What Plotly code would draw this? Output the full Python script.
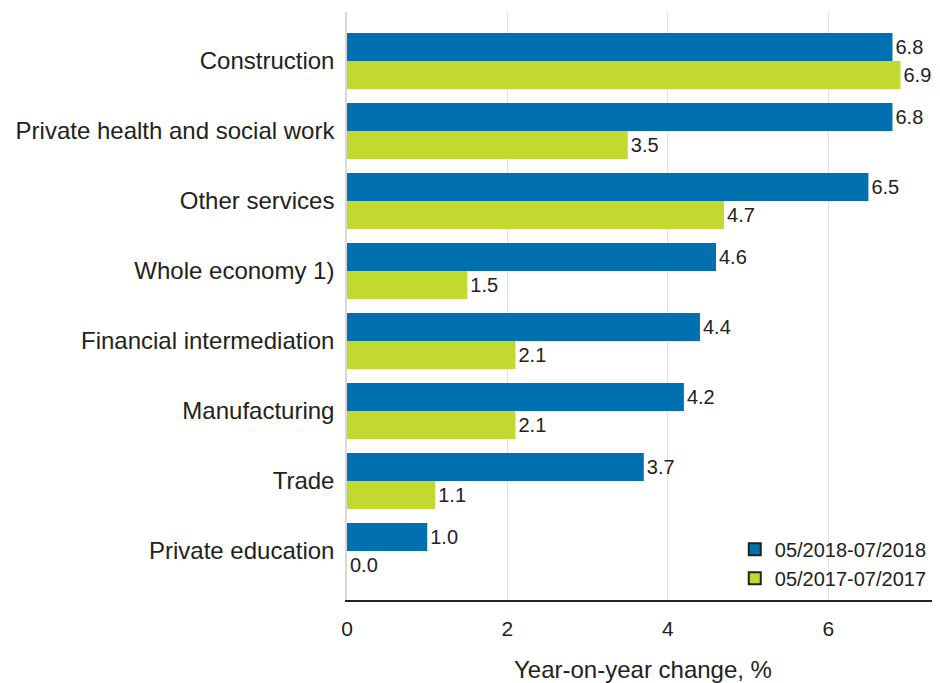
import plotly.graph_objects as go

categories = ["Construction", "Private health and social work", "Other services",
              "Whole economy 1)", "Financial intermediation", "Manufacturing",
              "Trade", "Private education"]
series_2018 = [6.8, 6.8, 6.5, 4.6, 4.4, 4.2, 3.7, 1.0]
series_2017 = [6.9, 3.5, 4.7, 1.5, 2.1, 2.1, 1.1, 0.0]
name_2018 = "05/2018-07/2018"
name_2017 = "05/2017-07/2017"
x_ticks = [0, 2, 4, 6]

blue = "#0070b0"
green = "#c2d92f"
font = "Liberation Sans, Arial, sans-serif"

fig = go.Figure()
for name, vals, col in [(name_2018, series_2018, blue), (name_2017, series_2017, green)]:
    fig.add_trace(go.Bar(
        y=categories, x=vals, orientation="h", name=name,
        marker=dict(color=col, line=dict(width=0)),
        texttemplate="%{x:.1f}", textposition="outside",
        textfont=dict(size=20, color="#222222", family=font),
        cliponaxis=False, showlegend=False))
    fig.add_trace(go.Scatter(
        x=[None], y=[None], mode="markers", name=name,
        marker=dict(symbol="square", size=14, color=col, line=dict(color="#222222", width=1.5))))

fig.update_layout(
    width=932, height=675,
    margin=dict(l=339, r=1, t=4, b=83),
    plot_bgcolor="white", paper_bgcolor="white",
    barmode="group", bargap=0.2, bargroupgap=0,
    font=dict(family=font, size=20, color="#222222"),
    legend=dict(x=0.655, y=0.004, xanchor="left", yanchor="bottom",
                font=dict(size=20), bgcolor="rgba(0,0,0,0)",
                itemsizing="constant", tracegroupgap=0),
    xaxis=dict(range=[0, 7.38], tickvals=x_ticks, showgrid=True, gridcolor="#e0e0e0",
               gridwidth=1, zeroline=False, showline=True, linecolor="#222222",
               linewidth=2, ticks="", ticklabelstandoff=9, automargin=False,
               tickfont=dict(size=21),
               title=dict(text="Year-on-year change, %", font=dict(size=24), standoff=33)),
    yaxis=dict(categoryorder="array", categoryarray=categories, autorange=False,
               range=[7.7, -0.7], showgrid=False, zeroline=False, showline=True,
               linecolor="#d8d8d8", linewidth=1.5, ticks="", ticklabelstandoff=6,
               automargin=False, tickfont=dict(size=24)),
)

fig.write_html("out.html")
